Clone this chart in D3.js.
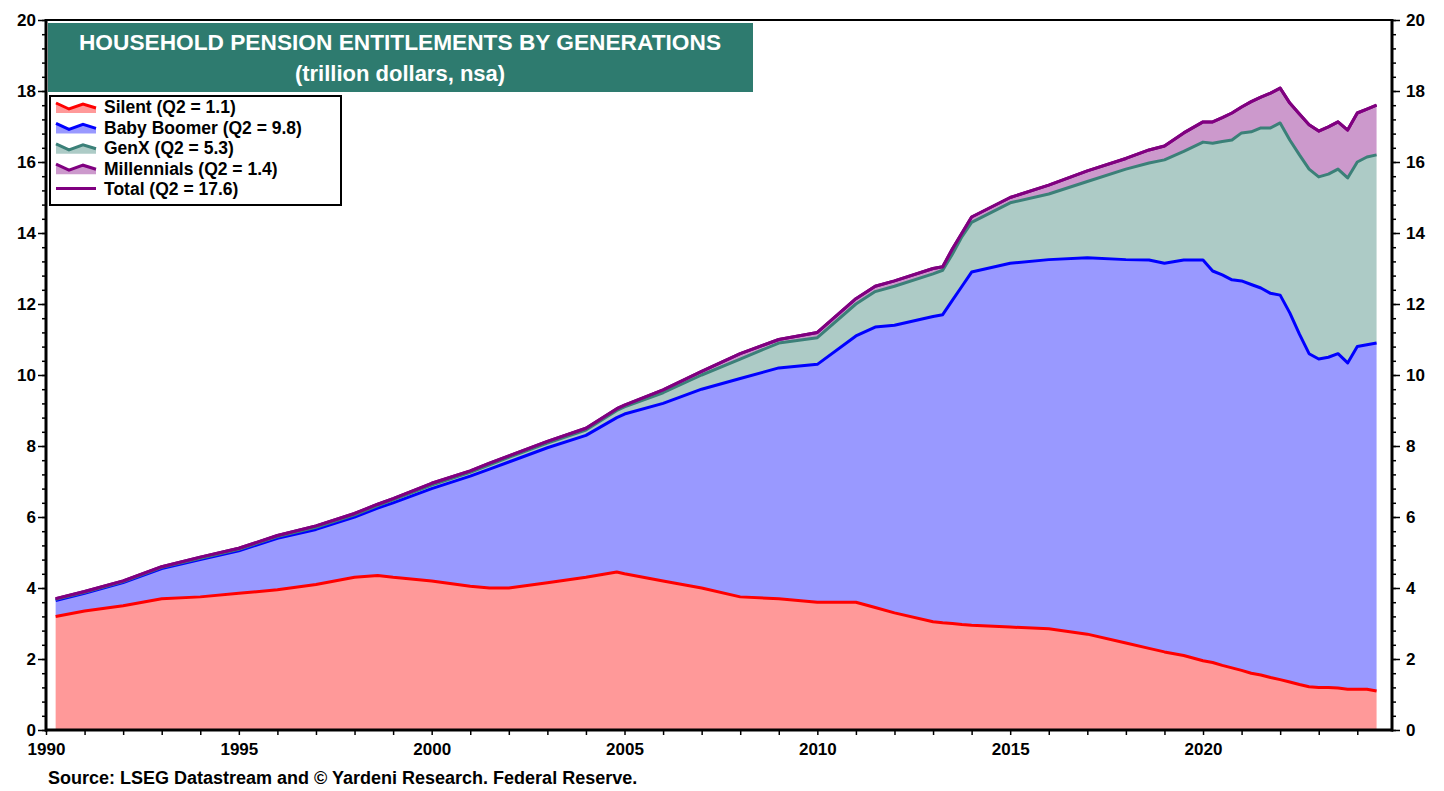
<!DOCTYPE html>
<html>
<head>
<meta charset="utf-8">
<script src="https://cdn.jsdelivr.net/npm/d3@7"></script>
<style>
    body { margin: 0; background: #fff; }
</style>
</head>
<body>
<div class="pensionChart"></div>
<script>
// Quarter dates (decimal years) and values by generation (trillion dollars)
const dates = [1990.25, 1991, 1992, 1993, 1994, 1995, 1996, 1997, 1998, 1998.6, 1999, 2000, 2001, 2001.5, 2002,
    2003, 2004, 2004.8, 2005, 2006, 2007, 2008, 2009, 2010, 2011, 2011.5, 2012, 2013, 2013.25, 2013.5, 2013.75, 2014,
    2015, 2016, 2017, 2018, 2018.6, 2019, 2019.5, 2020, 2020.25, 2020.5, 2020.75, 2021, 2021.25, 2021.5, 2021.75,
    2022, 2022.25, 2022.5, 2022.75, 2023, 2023.25, 2023.5, 2023.75, 2024, 2024.25, 2024.5];
const silent = [3.2, 3.35, 3.5, 3.7, 3.75, 3.85, 3.95, 4.1, 4.3, 4.35, 4.3, 4.2, 4.05, 4.0, 4.0,
    4.15, 4.3, 4.45, 4.4, 4.2, 4.0, 3.75, 3.7, 3.6, 3.6, 3.45, 3.3, 3.05, 3.02, 3.0, 2.97, 2.95,
    2.9, 2.85, 2.7, 2.45, 2.3, 2.2, 2.1, 1.95, 1.9, 1.82, 1.75, 1.68, 1.6, 1.55, 1.48,
    1.42, 1.35, 1.28, 1.22, 1.2, 1.2, 1.18, 1.15, 1.15, 1.15, 1.1];
const boomer = [0.45, 0.5, 0.65, 0.85, 1.05, 1.2, 1.45, 1.55, 1.7, 1.9, 2.1, 2.6, 3.1, 3.35, 3.55,
    3.8, 4.0, 4.35, 4.5, 5.0, 5.6, 6.15, 6.5, 6.7, 7.5, 7.9, 8.1, 8.6, 8.68, 9.1, 9.53, 9.95,
    10.25, 10.4, 10.6, 10.8, 10.94, 10.95, 11.14, 11.29, 11.03, 11.0, 10.93, 10.97, 10.95, 10.9, 10.82,
    10.83, 10.4, 9.87, 9.38, 9.25, 9.3, 9.42, 9.19, 9.65, 9.7, 9.8];
const genx = [0.03, 0.03, 0.03, 0.03, 0.04, 0.04, 0.05, 0.06, 0.06, 0.07, 0.08, 0.1, 0.11, 0.12, 0.13,
    0.13, 0.15, 0.2, 0.2, 0.3, 0.4, 0.55, 0.7, 0.75, 0.9, 1.0, 1.1, 1.2, 1.25, 1.3, 1.4, 1.4,
    1.7, 1.85, 2.15, 2.55, 2.73, 2.91, 3.06, 3.32, 3.6, 3.76, 3.94, 4.17, 4.3, 4.51, 4.66,
    4.85, 4.87, 5.05, 5.2, 5.13, 5.16, 5.2, 5.21, 5.2, 5.29, 5.3];
const millennials = [0.02, 0.02, 0.02, 0.02, 0.03, 0.03, 0.03, 0.04, 0.04, 0.04, 0.04, 0.05, 0.04, 0.05, 0.04,
    0.05, 0.05, 0.05, 0.05, 0.08, 0.1, 0.15, 0.1, 0.15, 0.15, 0.15, 0.15, 0.15, 0.1, 0.15, 0.1, 0.15,
    0.15, 0.25, 0.3, 0.3, 0.37, 0.39, 0.52, 0.57, 0.6, 0.67, 0.76, 0.73, 0.85, 0.87, 0.98,
    0.98, 1.04, 1.15, 1.25, 1.29, 1.33, 1.33, 1.35, 1.38, 1.35, 1.4];

const seriesNames = ["Silent", "Baby Boomer", "GenX", "Millennials"];
const legendLabels = ["Silent (Q2 = 1.1)", "Baby Boomer (Q2 = 9.8)", "GenX (Q2 = 5.3)", "Millennials (Q2 = 1.4)", "Total (Q2 = 17.6)"];
const xTickYears = [1990, 1995, 2000, 2005, 2010, 2015, 2020];
const yTickValues = [0, 2, 4, 6, 8, 10, 12, 14, 16, 18, 20];

const fillColors = ["#ff9999", "#9999ff", "#adcbc6", "#cc99cc"];
const lineColors = ["#ff0000", "#0000ff", "#3b8078", "#800080"];
const totalColor = "#800080";

// Build rows for the stack layout
const rows = dates.map((d, i) => ({
    date: d,
    "Silent": silent[i],
    "Baby Boomer": boomer[i],
    "GenX": genx[i],
    "Millennials": millennials[i]
}));

const width = 1444;
const height = 791;
const plot = { left: 46, right: 1392, top: 20, bottom: 730 };

const svg = d3.select(".pensionChart")
    .append("svg")
    .attr("width", width)
    .attr("height", height)
    .style("font-family", "Arial, 'Liberation Sans', Helvetica, sans-serif");

const x = d3.scaleLinear().domain([1990, 2024.9]).range([plot.left, plot.right]);
const y = d3.scaleLinear().domain([0, 20]).range([plot.bottom, plot.top]);

const stacked = d3.stack().keys(seriesNames)(rows);

const area = d3.area()
    .x(d => x(d.data.date))
    .y0(d => y(d[0]))
    .y1(d => y(d[1]));

const topLine = d3.line()
    .x(d => x(d.data.date))
    .y(d => y(d[1]));

// Filled layers
svg.append("g")
    .selectAll("path")
    .data(stacked)
    .join("path")
    .attr("d", area)
    .attr("fill", (d, i) => fillColors[i]);

// Layer top lines
svg.append("g")
    .selectAll("path")
    .data(stacked)
    .join("path")
    .attr("d", topLine)
    .attr("fill", "none")
    .attr("stroke", (d, i) => lineColors[i])
    .attr("stroke-width", 3)
    .attr("stroke-linejoin", "round");

// Total line
svg.append("path")
    .datum(stacked[stacked.length - 1])
    .attr("d", topLine)
    .attr("fill", "none")
    .attr("stroke", totalColor)
    .attr("stroke-width", 3)
    .attr("stroke-linejoin", "round");

// Frame
svg.append("path")
    .attr("d", `M${plot.left},${plot.top}H${plot.right}V${plot.bottom}`)
    .attr("fill", "none")
    .attr("stroke", "#000")
    .attr("stroke-width", 2);

// X axis
const xAxis = svg.append("g")
    .attr("transform", `translate(0,${plot.bottom})`)
    .call(d3.axisBottom(x)
        .tickValues(d3.range(1990, 2025))
        .tickSize(5)
        .tickFormat(d => xTickYears.includes(d) ? d : ""));
xAxis.select(".domain").attr("stroke-width", 3).attr("d", `M${plot.left - 1},0H${plot.right + 1}`);
xAxis.selectAll(".tick line").attr("stroke-width", 1.5);
xAxis.selectAll(".tick text")
    .attr("dy", "1.0em")
    .style("font-size", "17px")
    .style("font-weight", "bold")
    .attr("fill", "#000");

// Y axes, left and right
const minorY = d3.range(0, 20.01, 0.4).map(v => +v.toFixed(1));
function styleYAxis(g) {
    g.select(".domain").remove();
    g.selectAll(".tick line").attr("stroke-width", 1.5);
    g.selectAll(".tick text")
        .style("font-size", "17px")
        .style("font-weight", "bold")
        .attr("fill", "#000");
}
svg.append("g")
    .attr("transform", `translate(${plot.left},0)`)
    .call(d3.axisLeft(y).tickValues(minorY).tickSize(4).tickFormat(""))
    .call(styleYAxis);
svg.append("g")
    .attr("transform", `translate(${plot.left},0)`)
    .call(d3.axisLeft(y).tickValues(yTickValues).tickSize(8).tickPadding(2))
    .call(styleYAxis);
svg.append("line")
    .attr("x1", plot.left).attr("x2", plot.left)
    .attr("y1", plot.top - 1).attr("y2", plot.bottom + 1.5)
    .attr("stroke", "#000").attr("stroke-width", 3);

svg.append("g")
    .attr("transform", `translate(${plot.right},0)`)
    .call(d3.axisRight(y).tickValues(minorY).tickSize(4).tickFormat(""))
    .call(styleYAxis);
svg.append("g")
    .attr("transform", `translate(${plot.right},0)`)
    .call(d3.axisRight(y).tickValues(yTickValues).tickSize(8).tickPadding(6))
    .call(styleYAxis);
svg.append("line")
    .attr("x1", plot.right).attr("x2", plot.right)
    .attr("y1", plot.top - 1).attr("y2", plot.bottom + 1.5)
    .attr("stroke", "#000").attr("stroke-width", 3);

// Title box
svg.append("rect")
    .attr("x", 48)
    .attr("y", 23)
    .attr("width", 705)
    .attr("height", 69)
    .attr("fill", "#2e7b6f");
svg.append("text")
    .attr("x", 400)
    .attr("y", 50)
    .attr("text-anchor", "middle")
    .attr("fill", "#fff")
    .style("font-size", "22.7px")
    .style("font-weight", "bold")
    .text("HOUSEHOLD PENSION ENTITLEMENTS BY GENERATIONS");
svg.append("text")
    .attr("x", 400)
    .attr("y", 81)
    .attr("text-anchor", "middle")
    .attr("fill", "#fff")
    .style("font-size", "22px")
    .style("font-weight", "bold")
    .text("(trillion dollars, nsa)");

// Legend
const legend = svg.append("g");
legend.append("rect")
    .attr("x", 50)
    .attr("y", 96)
    .attr("width", 291)
    .attr("height", 109)
    .attr("fill", "#fff")
    .attr("stroke", "#000")
    .attr("stroke-width", 2);

const legendItems = legend.selectAll("g.item")
    .data(legendLabels)
    .join("g")
    .attr("class", "item")
    .attr("transform", (d, i) => `translate(0,${107 + i * 20.4})`);

const zig = [[56, -4], [69, 2], [83, -3], [96, 1]];
legendItems.filter((d, i) => i < 4)
    .append("path")
    .attr("d", d3.area().x(p => p[0]).y0(6).y1(p => p[1])(zig))
    .attr("fill", (d, i) => fillColors[i]);
legendItems.filter((d, i) => i < 4)
    .append("path")
    .attr("d", d3.line()(zig))
    .attr("fill", "none")
    .attr("stroke", (d, i) => lineColors[i])
    .attr("stroke-width", 3);
legendItems.filter((d, i) => i === 4)
    .append("line")
    .attr("x1", 56).attr("x2", 96)
    .attr("y1", 0).attr("y2", 0)
    .attr("stroke", totalColor)
    .attr("stroke-width", 3);
legendItems.append("text")
    .attr("x", 104)
    .attr("y", 0)
    .attr("dy", "0.36em")
    .style("font-size", "17.5px")
    .style("font-weight", "bold")
    .text(d => d);

// Source note
svg.append("text")
    .attr("x", 48)
    .attr("y", 784)
    .style("font-size", "18px")
    .style("font-weight", "bold")
    .text("Source: LSEG Datastream and \u00a9 Yardeni Research. Federal Reserve.");
</script>
</body>
</html>
